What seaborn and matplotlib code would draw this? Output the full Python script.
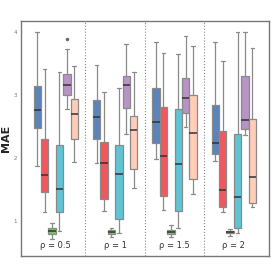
import numpy as np
import pandas as pd
import matplotlib
matplotlib.use("Agg")
import matplotlib.pyplot as plt
import seaborn as sns

# ---------------------------------------------------------------------------
# Data: five-number summaries (whisker low, Q1, median, Q3, whisker high)
# ---------------------------------------------------------------------------
groups = ["0.5", "1", "1.5", "2"]
group_labels = ["ρ = 0.5", "ρ = 1", "ρ = 1.5", "ρ = 2"]
methods = ["M1", "M2", "M3", "M4", "M5", "M6"]
colors = ["#5b84b8", "#f0585e", "#7cc36a", "#5fc4d4", "#b893c6", "#ffcdb8"]

m1 = [[1.87, 2.47, 2.76, 3.14, 4.00],
      [1.91, 2.30, 2.65, 2.92, 3.47],
      [1.98, 2.24, 2.56, 3.10, 3.84],
      [1.95, 2.06, 2.24, 2.83, 3.84]]
m2 = [[1.14, 1.46, 1.73, 2.29, 3.41],
      [1.16, 1.34, 1.91, 2.25, 3.04],
      [1.17, 1.40, 2.03, 2.80, 3.67],
      [1.14, 1.22, 1.49, 2.43, 3.54]]
m3 = [[0.71, 0.79, 0.84, 0.88, 0.96],
      [0.75, 0.79, 0.82, 0.85, 0.89],
      [0.74, 0.79, 0.82, 0.85, 0.93],
      [0.76, 0.80, 0.82, 0.84, 0.87]]
m4 = [[0.83, 1.14, 1.50, 2.20, 3.36],
      [0.81, 1.03, 1.74, 2.21, 3.10],
      [0.89, 1.15, 1.90, 2.77, 3.65],
      [0.81, 0.88, 1.37, 2.38, 4.00]]
m5 = [[2.77, 3.00, 3.16, 3.33, 3.73],
      [2.38, 2.79, 3.16, 3.30, 3.80],
      [2.49, 2.71, 2.95, 3.27, 3.94],
      [2.36, 2.46, 2.60, 3.29, 3.99]]
m6 = [[1.93, 2.29, 2.69, 2.94, 3.46],
      [1.52, 1.82, 2.44, 2.66, 3.36],
      [1.42, 1.67, 2.39, 3.00, 3.77],
      [1.22, 1.29, 1.70, 2.61, 3.74]]
# outliers: (method, group) -> values
outliers = {("M5", "0.5"): [3.89]}

summaries = dict(zip(methods, [m1, m2, m3, m4, m5, m6]))

# expand each summary into a sample whose quartiles/whiskers match exactly
rows = []
for meth, stats in summaries.items():
    for grp, (lo, q1, med, q3, hi) in zip(groups, stats):
        extra = outliers.get((meth, grp), [])
        if extra:
            vals = [lo, q1, q1, med, med, q3, q3, hi] + extra
        else:
            vals = [lo, q1, q1, med, med, med, q3, q3, hi]
        rows += [{"rho": grp, "method": meth, "MAE": v} for v in vals]
df = pd.DataFrame(rows)

# ---------------------------------------------------------------------------
# Plot
# ---------------------------------------------------------------------------
sns.set_theme(style="white")
plt.rcParams["font.family"] = ["DejaVu Sans"]

fig = plt.figure(figsize=(2.73, 2.73), dpi=100)
ax = fig.add_axes([0.076, 0.062, 0.909, 0.861])

sns.boxplot(
    data=df, x="rho", y="MAE", hue="method",
    order=groups, hue_order=methods, palette=colors,
    width=0.75, gap=0.0, linewidth=0.9, linecolor="#8a8a8a",
    saturation=1, legend=False, ax=ax,
    medianprops={"color": "#333333", "linewidth": 1.1},
    flierprops={"marker": "o", "markersize": 1.5,
                "markerfacecolor": "#666666", "markeredgecolor": "#666666"},
)

for xv in [0.5, 1.5, 2.5]:
    ax.axvline(xv, color="#888888", linestyle=":", linewidth=0.8)

for i, lab in enumerate(group_labels):
    ax.text(i, 0.6, lab, ha="center", va="center", fontsize=6, color="#333333")

ax.set_xlim(-0.59, 3.59)
ax.set_ylim(0.44, 4.17)
ax.set_yticks([1, 2, 3, 4])
ax.set_xticklabels([])
ax.set_xlabel("")
ax.set_ylabel("MAE", fontsize=8, fontweight="bold")
ax.yaxis.set_label_coords(-0.038, 0.5)
ax.tick_params(axis="y", labelsize=4, colors="#777777", length=1.5, pad=1)
ax.tick_params(axis="x", length=1.5, colors="#777777")
for sp in ax.spines.values():
    sp.set_color("#777777")
    sp.set_linewidth(1.0)

fig.savefig("out.png", dpi=100)
